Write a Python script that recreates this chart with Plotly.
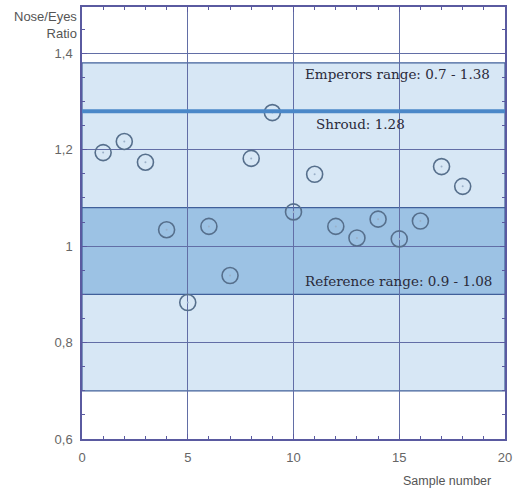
import plotly.graph_objects as go

samples = list(range(1, 19))
ratios = [1.194, 1.217, 1.174, 1.034, 0.883, 1.041, 0.939, 1.182, 1.277,
          1.071, 1.149, 1.041, 1.017, 1.056, 1.015, 1.052, 1.165, 1.124]

emperors_range = [0.70, 1.38]
reference_range = [0.90, 1.08]
shroud_value = 1.28

x_tickvals = [0, 5, 10, 15, 20]
x_ticktext = ["0", "5", "10", "15", "20"]
y_tickvals = [0.6, 0.8, 1.0, 1.2, 1.4]
y_ticktext = ["0,6", "0,8", "1", "1,2", "1,4"]

grid_col = "#626ea6"
axis_col = "#5a5aa0"
fig = go.Figure()

fig.add_trace(go.Scatter(
    x=samples, y=ratios, mode="markers",
    marker=dict(symbol="circle-open", size=16, color="#566f8c",
                line=dict(width=1.6, color="#566f8c")),
    showlegend=False, hoverinfo="x+y"))
fig.add_trace(go.Scatter(
    x=samples, y=ratios, mode="markers",
    marker=dict(symbol="circle", size=2, color="#9ab0c8"),
    showlegend=False, hoverinfo="skip"))

shapes = [
    dict(type="rect", xref="x", yref="y", x0=0, x1=20,
         y0=emperors_range[0], y1=emperors_range[1],
         fillcolor="#d7e7f5", line=dict(width=1.2, color="#40609a"), layer="below"),
    dict(type="rect", xref="x", yref="y", x0=0, x1=20,
         y0=reference_range[0], y1=reference_range[1],
         fillcolor="#9cc2e4", line=dict(width=1.2, color="#40609a"), layer="below"),
    dict(type="line", xref="x", yref="y", x0=0, x1=20,
         y0=shroud_value, y1=shroud_value,
         line=dict(width=4, color="#4b88c8"), layer="above"),
]

serif = dict(family="DejaVu Serif", size=13.5, color="#2a2a3a")
sans = dict(family="Liberation Sans", size=13, color="#555555")
annotations = [
    dict(x=19.4, y=1.358, xref="x", yref="y", text="Emperors range: 0.7 - 1.38",
         showarrow=False, xanchor="right", font=serif),
    dict(x=10.95, y=1.254, xref="x", yref="y", text="Shroud: 1.28",
         showarrow=False, xanchor="left", font=serif),
    dict(x=19.5, y=0.927, xref="x", yref="y", text="Reference range: 0.9 - 1.08",
         showarrow=False, xanchor="right", font=serif),
    dict(x=-0.007, y=1.0, xref="paper", yref="paper", text="Nose/Eyes<br>Ratio",
         showarrow=False, xanchor="right", yanchor="top", align="right",
         font=sans),
    dict(x=0.864, y=-0.097, xref="paper", yref="paper", text="Sample number",
         showarrow=False, xanchor="center", yanchor="middle",
         font=dict(family="Liberation Sans", size=12.5, color="#555555")),
]

fig.update_layout(
    width=513, height=490,
    margin=dict(l=82, r=8, t=7, b=51),
    paper_bgcolor="white", plot_bgcolor="white",
    shapes=shapes, annotations=annotations,
    font=dict(family="Liberation Sans", size=13, color="#666666"),
    xaxis=dict(range=[0, 20], tickvals=x_tickvals, ticktext=x_ticktext,
               automargin=False, ticklabelstandoff=6,
               showgrid=True, gridcolor=grid_col, gridwidth=1,
               zeroline=False, showline=True, linecolor=axis_col, linewidth=1.5,
               mirror="ticks", ticks="inside", ticklen=5, tickcolor=axis_col,
               minor=dict(dtick=1, ticks="inside", ticklen=3, tickcolor=axis_col,
                          showgrid=False),
               tickfont=dict(size=13, color="#666666")),
    yaxis=dict(range=[0.6, 1.496], tickvals=y_tickvals, ticktext=y_ticktext,
               automargin=False, ticklabelstandoff=5,
               showgrid=True, gridcolor=grid_col, gridwidth=1,
               zeroline=False, showline=True, linecolor=axis_col, linewidth=1.5,
               mirror="ticks", ticks="inside", ticklen=5, tickcolor=axis_col,
               minor=dict(dtick=0.05, tick0=0.6, ticks="inside", ticklen=3,
                          tickcolor=axis_col, showgrid=False),
               tickfont=dict(size=13, color="#666666")),
)

fig.write_html("out.html", config={"displayModeBar": False},
               post_script="document.body.style.margin='0';")
